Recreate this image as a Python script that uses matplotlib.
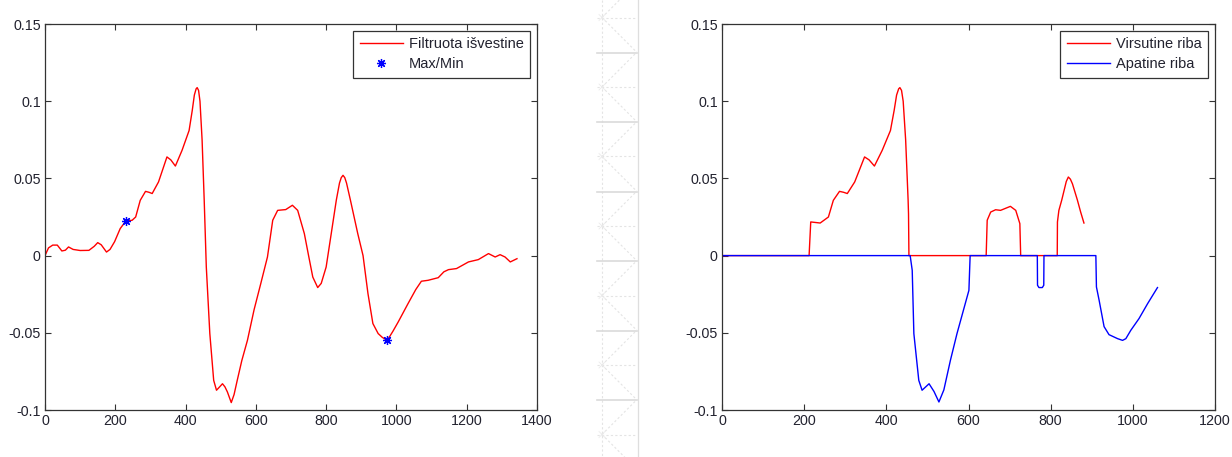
import matplotlib
matplotlib.use("Agg")
import matplotlib.pyplot as plt
from matplotlib.lines import Line2D
from matplotlib.ticker import FuncFormatter

plt.rcParams['font.family'] = ['Liberation Sans', 'DejaVu Sans']
plt.rcParams['font.size'] = 10
plt.rcParams['axes.unicode_minus'] = False

# filtruota išvestinė
sig_x = [0, 10, 22, 35, 48, 58, 67, 80, 100, 125, 140, 150, 160, 175, 185, 198,
         214, 230, 248, 258, 271, 286, 296, 305, 323, 347, 358, 371, 390, 410,
         419, 425, 430, 433, 437, 441, 447, 453, 459, 469, 480, 488, 497, 505,
         512, 519, 530, 538, 547, 560, 576, 595, 614, 633, 648, 662, 685, 704,
         719, 738, 750, 762, 776, 786, 800, 815, 829, 838, 843, 848, 853, 858,
         869, 890, 905, 919, 933, 948, 960, 974, 990, 1005, 1033, 1055, 1071,
         1090, 1119, 1135, 1148, 1171, 1190, 1205, 1233, 1262, 1281, 1295,
         1309, 1324, 1343]
sig_y = [0.0, 0.005, 0.0068, 0.0068, 0.003, 0.0035, 0.0056, 0.004, 0.0033,
         0.0034, 0.006, 0.0084, 0.007, 0.0023, 0.004, 0.009, 0.0175, 0.0224,
         0.0229, 0.025, 0.0358, 0.0416, 0.041, 0.0402, 0.0477, 0.0639, 0.062,
         0.058, 0.0682, 0.081, 0.094, 0.104, 0.108, 0.1088, 0.107, 0.100,
         0.075, 0.036, -0.0074, -0.0505, -0.0808, -0.0872, -0.085, -0.083,
         -0.085, -0.0883, -0.0952, -0.090, -0.0808, -0.068, -0.0549, -0.035,
         -0.0181, -0.0009, 0.0229, 0.0293, 0.0298, 0.0326, 0.0293, 0.0142, 0.0,
         -0.0139, -0.0207, -0.018, -0.0074, 0.015, 0.036, 0.047, 0.0505, 0.052,
         0.0505, 0.047, 0.036, 0.0142, 0.0, -0.0246, -0.044, -0.0505, -0.053,
         -0.0549, -0.049, -0.043, -0.0311, -0.022, -0.0166, -0.016, -0.0143,
         -0.0105, -0.0091, -0.0084, -0.006, -0.0041, -0.0026, 0.0013, -0.0009,
         0.0006, -0.0009, -0.0041, -0.002]

# rasti ekstremumai
ext_x = [230, 974]
ext_y = [0.0224, -0.0549]

# viršutinė riba
upper_x = [0, 212, 216, 239, 259, 271, 286, 296, 305, 323, 347, 358, 371, 390,
           410, 419, 425, 430, 433, 437, 441, 447, 453, 454, 455, 643, 645.5,
           654, 666, 678, 702, 715, 725, 727, 816, 816.5, 820, 827, 838, 843,
           848, 853, 865, 873, 881]
upper_y = [0.0, 0.0, 0.0218, 0.0211, 0.025, 0.0358, 0.0416, 0.041, 0.0402,
           0.0477, 0.0639, 0.062, 0.058, 0.0682, 0.081, 0.094, 0.104, 0.108,
           0.1088, 0.107, 0.100, 0.075, 0.036, 0.027, 0.0, 0.0, 0.0229, 0.0282,
           0.0297, 0.0293, 0.0319, 0.0293, 0.0207, 0.0, 0.0, 0.0218, 0.0293,
           0.036, 0.048, 0.0509, 0.0495, 0.0465, 0.036, 0.0282, 0.0211]

# apatinė riba
lower_x = [0, 458, 463, 467, 479, 487, 504, 516, 528, 540, 556, 572, 601, 603,
           604, 767.5, 768, 771.5, 779.7, 783.2, 783.7, 910, 911.4, 918, 930,
           942, 963, 975, 983, 995, 1015, 1036, 1060]
lower_y = [0.0, 0.0, -0.0095, -0.0505, -0.0808, -0.0872, -0.083, -0.088,
           -0.0948, -0.087, -0.0678, -0.0505, -0.0225, -0.0074, 0.0, 0.0,
           -0.0192, -0.0207, -0.0207, -0.0192, 0.0, 0.0, -0.0203, -0.029,
           -0.046, -0.0512, -0.0538, -0.0549, -0.0538, -0.0484, -0.0408,
           -0.0311, -0.0207]

y_ticks = [-0.1, -0.05, 0, 0.05, 0.1, 0.15]

W, H = 1232, 457
fig = plt.figure(figsize=(W / 100, H / 100), dpi=100)
fig.patch.set_facecolor('white')

# pilkas fono raštas tarp grafikų
def px(x, y):
    return x / W, 1 - y / H

light = '#e4e4e4'
fig.add_artist(Line2D(*zip(px(602, 0), px(602, H)), color=light, lw=0.8, ls=(0, (2, 2))))
fig.add_artist(Line2D(*zip(px(637.5, 0), px(637.5, H)), color='#dedede', lw=0.9))
for k in range(-1, 7):
    ys = 52.7 + 69.5 * k
    yd = 17.5 + 69.5 * k
    if 0 <= ys <= H:
        fig.add_artist(Line2D(*zip(px(597, ys), px(637, ys)), color='#dadada', lw=1.2))
    fig.add_artist(Line2D(*zip(px(597, yd), px(637, yd)), color=light, lw=0.8, ls=(0, (2, 2))))
    for dy in (-35, 35):
        fig.add_artist(Line2D(*zip(px(602, yd), px(637, yd + dy)), color=light, lw=0.8,
                              ls=(0, (2, 2))))
    for a, b in ((-3, -3), (3, -3), (-3, 3), (3, 3)):
        fig.add_artist(Line2D(*zip(px(602, yd), px(602 + a, yd + b)), color='#ebebeb', lw=0.6))

ax1 = fig.add_axes([45 / W, 47 / H, 492 / W, 386 / H])
ax2 = fig.add_axes([722 / W, 47 / H, 493 / W, 386 / H])

ax1.plot(sig_x, sig_y, color='red', lw=1.0, label='Filtruota išvestine')
ax1.plot(ext_x, ext_y, ls='none', marker=(8, 2, 0), color='blue', ms=6.5, mew=0.9,
         label='Max/Min')

ax2.plot(upper_x, upper_y, color='red', lw=1.0, label='Virsutine riba')
ax2.plot(lower_x, lower_y, color='blue', lw=1.0, label='Apatine riba')

edge = '#333333'
txt = '#22222f'
for ax, xmax in ((ax1, 1400), (ax2, 1200)):
    ax.set_xlim(0, xmax)
    ax.set_ylim(-0.1, 0.15)
    ax.set_xticks(range(0, xmax + 1, 200))
    ax.set_yticks(y_ticks)
    ax.yaxis.set_major_formatter(FuncFormatter(lambda v, p: '%g' % round(v, 4)))
    ax.tick_params(direction='in', top=True, right=True, length=4, width=0.8,
                   color=edge, labelcolor=txt, labelsize=10.3, pad=3)
    for s in ax.spines.values():
        s.set_color(edge)
        s.set_linewidth(0.9)
    leg = ax.legend(loc='upper right', fancybox=False, edgecolor=edge,
                    framealpha=1, fontsize=10.5, handlelength=2.95,
                    handletextpad=0.42, borderaxespad=0.45, labelspacing=0.42,
                    borderpad=0.45)
    leg.get_frame().set_linewidth(0.9)
    for t in leg.get_texts():
        t.set_color(txt)

fig.savefig('out.png', dpi=100)
